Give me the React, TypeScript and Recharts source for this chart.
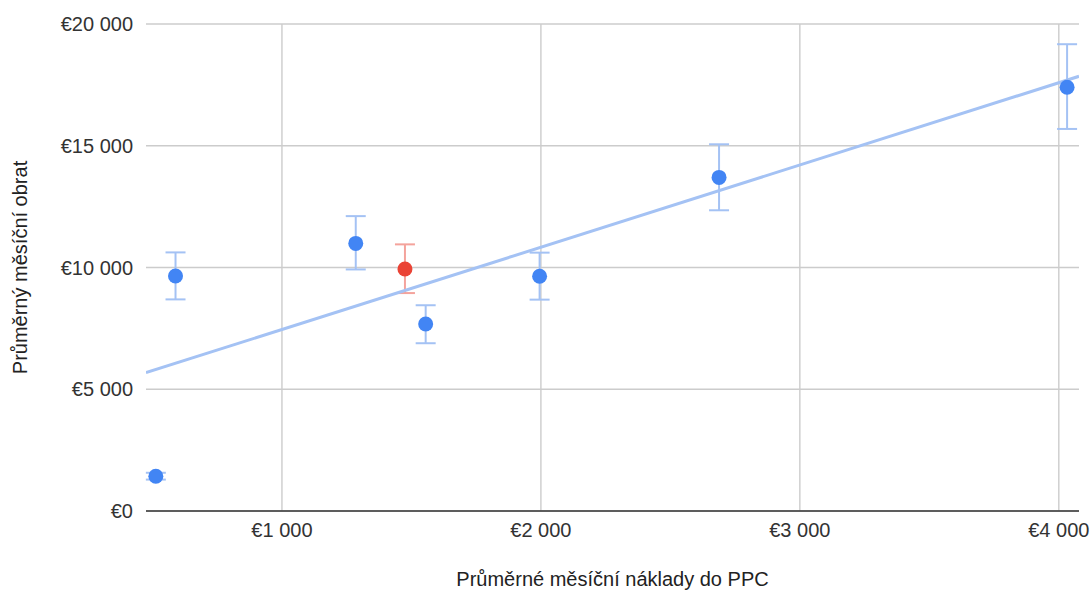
import React from 'react';
import { ScatterChart, Scatter, XAxis, YAxis, CartesianGrid, ErrorBar } from 'recharts';

const spendValues = [513, 589, 1285, 1475, 1555, 1995, 2688, 4032];
const revenueValues = [1430, 9650, 10990, 9940, 7680, 9640, 13700, 17400];
const errorUp = [140, 970, 1120, 1010, 770, 970, 1360, 1770];
const errorDown = [140, 960, 1070, 990, 790, 960, 1350, 1710];
const highlightIndex = 3;

const trendX = [475, 4078];
const trendY = [5680, 17852];

const xTicks = [1000, 2000, 3000, 4000];
const yTicks = [0, 5000, 10000, 15000, 20000];

const xTitle = 'Průměrné měsíční náklady do PPC';
const yTitle = 'Průměrný měsíční obrat';

const allPoints = spendValues.map((x, i) => ({
  x,
  y: revenueValues[i],
  err: [errorDown[i], errorUp[i]],
}));
const bluePoints = allPoints.filter((_, i) => i !== highlightIndex);
const redPoints = allPoints.filter((_, i) => i === highlightIndex);
const trendPoints = trendX.map((x, i) => ({ x, y: trendY[i] }));

const FONT = '"Liberation Sans", Arial, sans-serif';

const fmt = (v: number) => {
  const s = String(Math.round(v)).replace(/\B(?=(\d{3})+(?!\d))/g, ' ');
  return '€' + s;
};

const BlueDot = (p: any) => <circle cx={p.cx} cy={p.cy} r={7.5} fill="#4285f4" />;
const RedDot = (p: any) => <circle cx={p.cx} cy={p.cy} r={7.5} fill="#ea4335" />;
const NoDot = () => <g />;

export default function App() {
  return (
    <div style={{ position: 'absolute', left: 0, top: 0, width: 1091, height: 590, background: '#fff' }}>
      <ScatterChart
        width={1091}
        height={590}
        margin={{ top: 24, right: 12, bottom: 0, left: 0 }}
        style={{ fontFamily: FONT }}
      >
        <CartesianGrid
          stroke="#cccccc"
          strokeWidth={1.4}
          verticalCoordinatesGenerator={(args: any) => {
            const sc = args?.xAxis?.scale;
            if (!sc) return [];
            const f = typeof sc === 'function' ? sc : sc.map ? (v: number) => sc.map(v) : null;
            return f ? xTicks.map((t) => f(t)) : [];
          }}
        />
        <XAxis
          type="number"
          dataKey="x"
          domain={[475, 4078]}
          ticks={xTicks}
          allowDataOverflow
          tickFormatter={fmt}
          tickLine={false}
          tickSize={0}
          tickMargin={12}
          height={79}
          axisLine={{ stroke: '#333333', strokeWidth: 1.5 }}
          tick={{ fill: '#333333', fontSize: 20, fontFamily: FONT }}
          label={(props: any) => {
            const vb = props.viewBox || {};
            return (
              <text
                x={vb.x + vb.width / 2}
                y={586}
                textAnchor="middle"
                fontSize={20}
                fontFamily={FONT}
                fill="#222222"
              >
                {xTitle}
              </text>
            );
          }}
        />
        <YAxis
          type="number"
          dataKey="y"
          domain={[0, 20000]}
          ticks={yTicks}
          allowDataOverflow
          tickFormatter={fmt}
          tickLine={false}
          tickSize={0}
          tickMargin={13}
          width={146}
          axisLine={false}
          tick={{ fill: '#333333', fontSize: 20, fontFamily: FONT }}
          label={(props: any) => {
            const vb = props.viewBox || {};
            const cy = vb.y + vb.height / 2;
            return (
              <text
                x={27}
                y={cy}
                textAnchor="middle"
                fontSize={20}
                fontFamily={FONT}
                fill="#222222"
                transform={`rotate(-90, 27, ${cy})`}
              >
                {yTitle}
              </text>
            );
          }}
        />
        <Scatter
          data={trendPoints}
          line={{ stroke: '#a4c2f4', strokeWidth: 3 }}
          shape={NoDot}
          isAnimationActive={false}
        />
        <Scatter data={bluePoints} shape={BlueDot} isAnimationActive={false}>
          <ErrorBar dataKey="err" direction="y" width={10} stroke="#a4c2f4" strokeWidth={2} />
        </Scatter>
        <Scatter data={redPoints} shape={RedDot} isAnimationActive={false}>
          <ErrorBar dataKey="err" direction="y" width={10} stroke="#f4a39c" strokeWidth={2} />
        </Scatter>
      </ScatterChart>
    </div>
  );
}
